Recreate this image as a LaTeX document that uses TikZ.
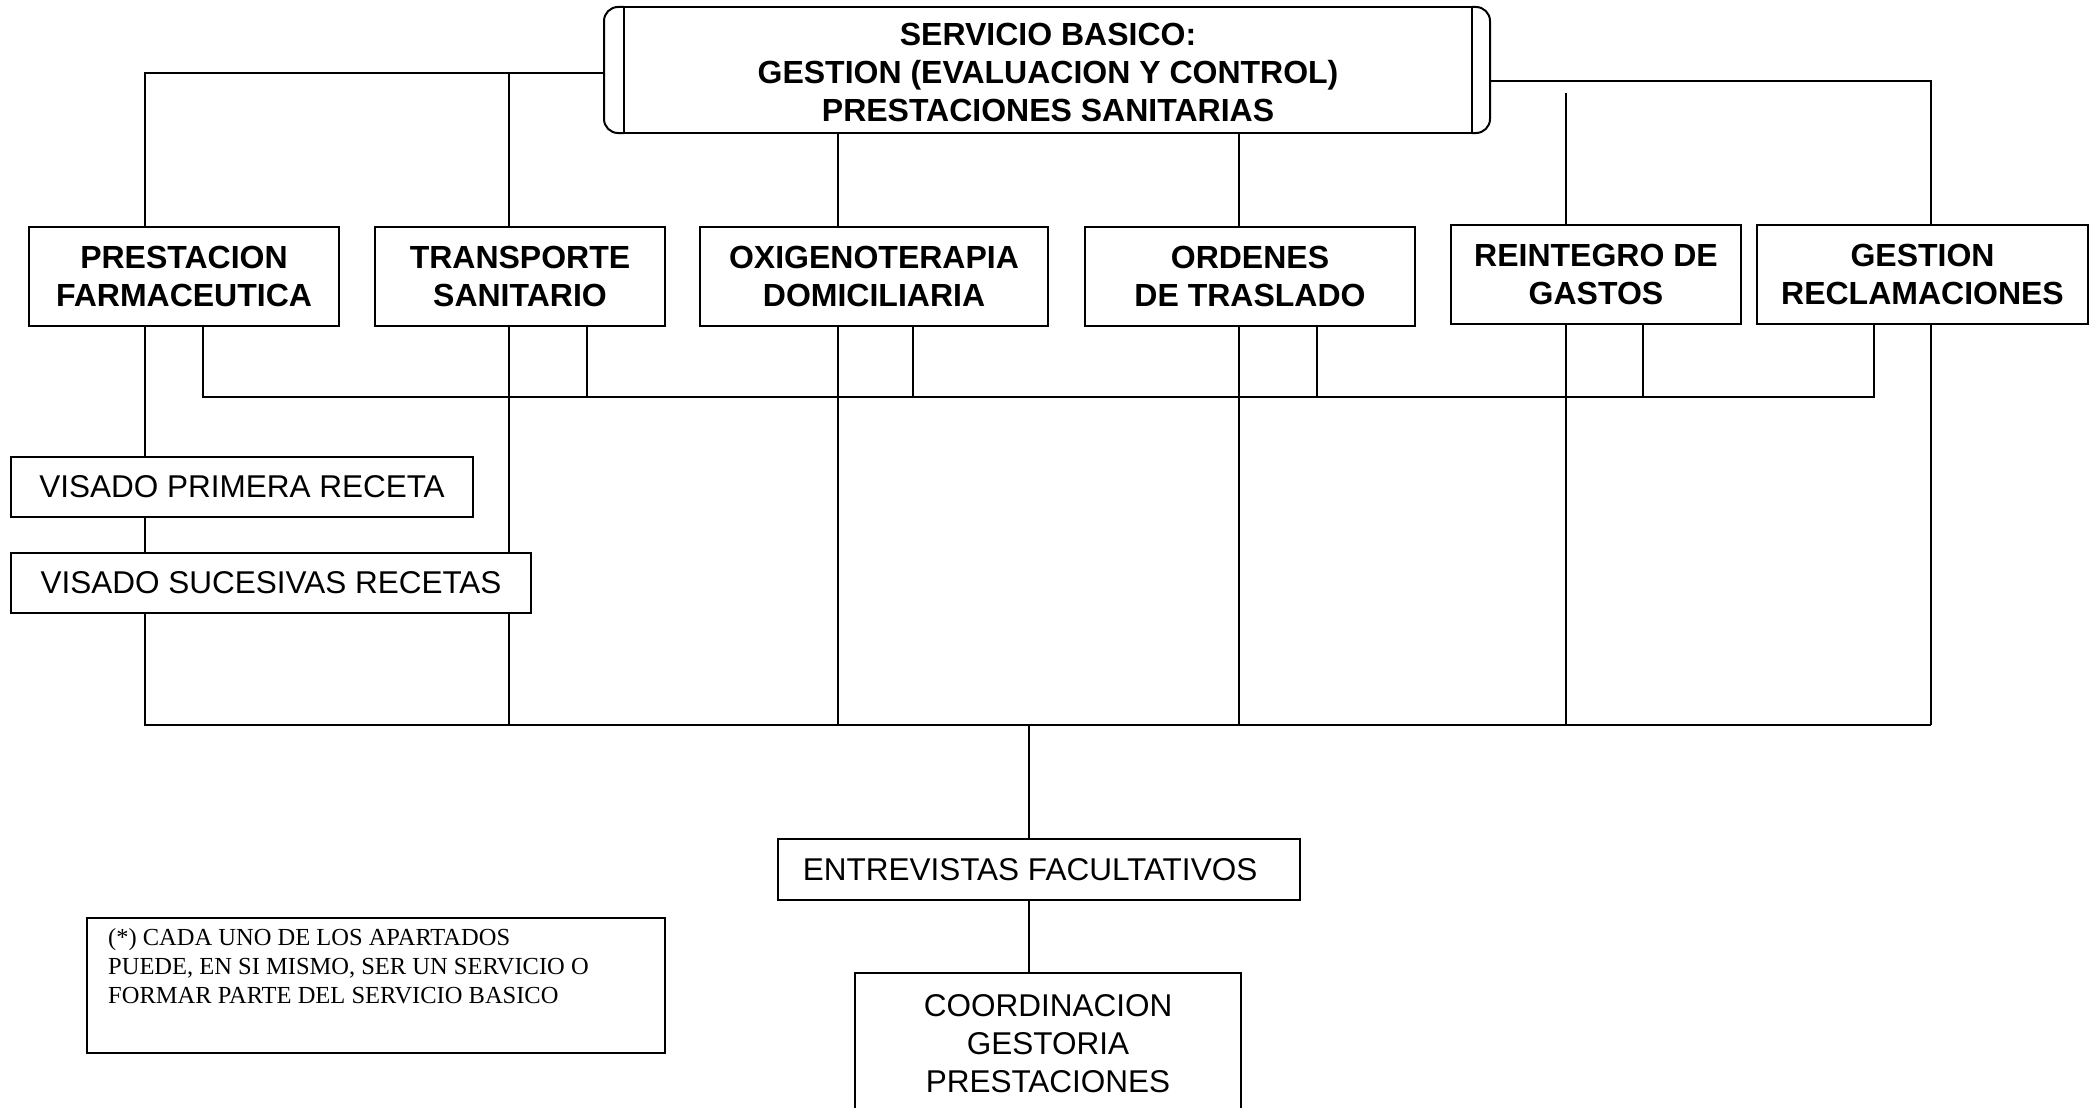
\documentclass[tikz,border=0pt]{standalone}
\usepackage{fontspec}
\setmainfont{Liberation Sans}
\newfontfamily\notefont{Liberation Serif}
\usetikzlibrary{backgrounds}
\begin{document}
\begin{tikzpicture}[x=1pt,y=-1pt,
  lin/.style={line width=2pt},
  bx/.style={draw, line width=2pt, fill=white, inner sep=0pt, outer sep=0pt, align=center, minimum height=99pt},
  boldfont/.style={font=\fontsize{32}{38}\selectfont\bfseries},
  plainfont/.style={font=\fontsize{31.5}{38}\selectfont}]
\useasboundingbox (0,0) rectangle (2093,1108);
\clip (0,0) rectangle (2093,1108);

% nodes
\node[bx, boldfont, minimum width=848pt, minimum height=126pt] (top) at (1048,70) {\rule{0pt}{28pt}SERVICIO BASICO:\\GESTION (EVALUACION Y CONTROL)\\PRESTACIONES SANITARIAS};
\draw[lin, rounded corners=14pt] (top.north west) -- ++(-20,0) -- ++(0,126) -- ++(20,0);
\draw[lin, rounded corners=14pt] (top.north east) -- ++(18,0) -- ++(0,126) -- ++(-18,0);

\node[bx, boldfont, minimum width=310pt] (pf) at (184,276.5) {PRESTACION\\FARMACEUTICA};
\node[bx, boldfont, minimum width=290pt] (ts) at (520,276.5) {TRANSPORTE\\SANITARIO};
\node[bx, boldfont, minimum width=348pt] (ox) at (874,276.5) {OXIGENOTERAPIA\\DOMICILIARIA};
\node[bx, boldfont, minimum width=330pt] (od) at (1250,276.5) {ORDENES\\DE TRASLADO};
\node[bx, boldfont, minimum width=290pt] (rgn) at (1596,274.5) {REINTEGRO DE\\GASTOS};
\node[bx, boldfont, minimum width=331pt] (gr) at (1922.5,274.5) {GESTION\\RECLAMACIONES};

\node[bx, plainfont, minimum width=462pt, minimum height=60pt] (vp) at (242,487) {VISADO PRIMERA RECETA};
\node[bx, plainfont, minimum width=520pt, minimum height=60pt] (vs) at (271,583) {VISADO SUCESIVAS RECETAS};

\node[bx, plainfont, minimum width=522pt, minimum height=61pt] (ef) at (1039,869.5) {ENTREVISTAS FACULTATIVOS\hspace{18pt}};
\node[bx, minimum width=386pt, minimum height=187pt] (co) at (1048,1066.5) {};
\node[plainfont, align=center, anchor=north, inner sep=0pt] (cotxt) at (1048,994) {COORDINACION\\GESTORIA\\PRESTACIONES};

\node[bx, minimum width=578pt, minimum height=135pt] (note) at (376,985.5) {};
\node[font=\notefont\fontsize{24.5}{29}\selectfont, align=left, anchor=north west, inner sep=0pt] (notetxt) at (108,928) {(*) CADA UNO DE LOS APARTADOS\\PUEDE, EN SI MISMO, SER UN SERVICIO O\\FORMAR PARTE DEL SERVICIO BASICO};

% junction coordinates
\coordinate (L) at (604,73);
\coordinate (R) at (1490,81);
\coordinate (rgtop) at (1566,93);
\coordinate (busA) at (0,397);
\coordinate (busB) at (0,725);
\coordinate (xa) at (145,0);
\coordinate (xb) at (203,0);
\coordinate (xc) at (509,0);
\coordinate (xd) at (587,0);
\coordinate (xe) at (838,0);
\coordinate (xf) at (913,0);
\coordinate (xg) at (1239,0);
\coordinate (xh) at (1317,0);
\coordinate (xi) at (1566,0);
\coordinate (xj) at (1643,0);
\coordinate (xk) at (1931,0);
\coordinate (xl) at (1874,0);
\coordinate (xm) at (1029,0);

\begin{pgfonlayer}{background}
% from top box
\draw[lin] (L) -| (pf.north -| xa);
\draw[lin] (L -| xc) -- (ts.north -| xc);
\draw[lin] (top.south -| xe) -- (ox.north -| xe);
\draw[lin] (top.south -| xg) -- (od.north -| xg);
\draw[lin] (R) -| (gr.north -| xk);
\draw[lin] (rgtop) -- (rgn.north -| xi);
% main verticals to lower bus
\draw[lin] (pf.south -| xa) -- (vp.north -| xa);
\draw[lin] (vp.south -| xa) -- (vs.north -| xa);
\draw[lin] (vs.south -| xa) -- (busB -| xa) -- (busB -| xk);
\draw[lin] (ts.south -| xc) -- (busB -| xc);
\draw[lin] (ox.south -| xe) -- (busB -| xe);
\draw[lin] (od.south -| xg) -- (busB -| xg);
\draw[lin] (rgn.south -| xi) -- (busB -| xi);
\draw[lin] (gr.south -| xk) -- (busB -| xk);
% upper bus
\draw[lin] (pf.south -| xb) -- (busA -| xb) -- (busA -| xl) -- (gr.south -| xl);
\draw[lin] (ts.south -| xd) -- (busA -| xd);
\draw[lin] (ox.south -| xf) -- (busA -| xf);
\draw[lin] (od.south -| xh) -- (busA -| xh);
\draw[lin] (rgn.south -| xj) -- (busA -| xj);
% centre
\draw[lin] (busB -| xm) -- (ef.north -| xm);
\draw[lin] (ef.south -| xm) -- (co.north -| xm);
\end{pgfonlayer}
\end{tikzpicture}
\end{document}
